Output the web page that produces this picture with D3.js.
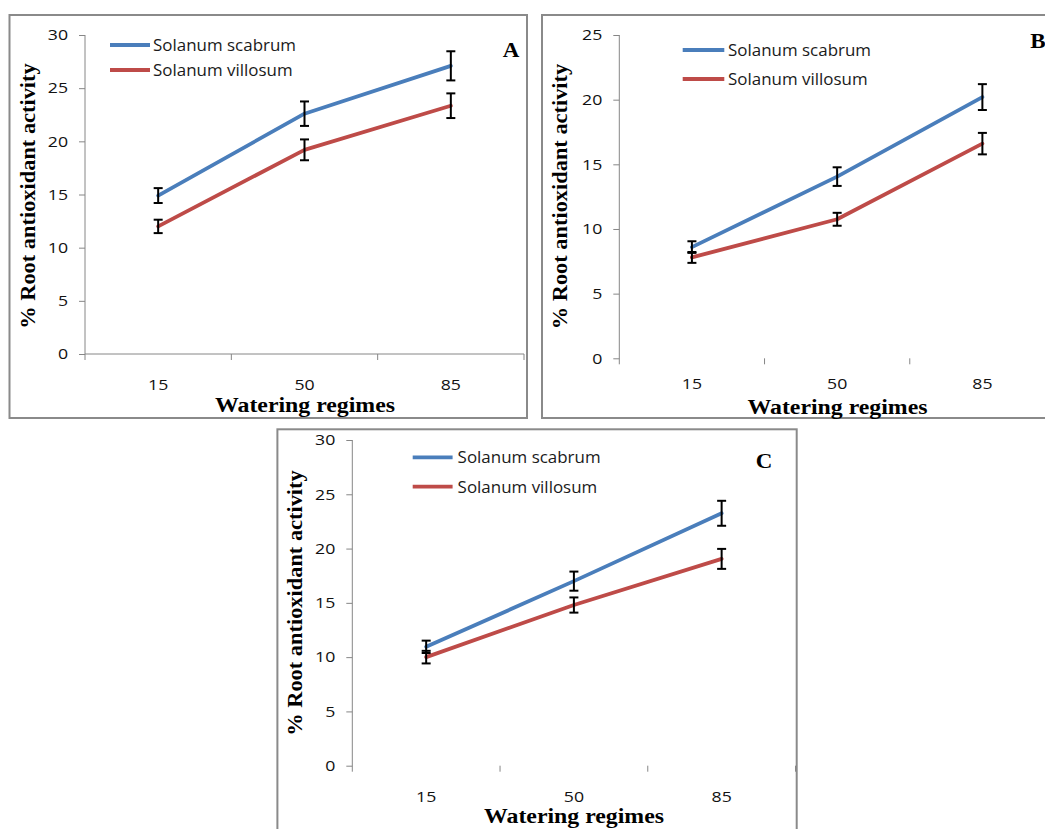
<!DOCTYPE html>
<html>
<head>
<meta charset="utf-8">
<script src="https://cdn.jsdelivr.net/npm/d3@7/dist/d3.min.js"></script>
<style>
  html, body { margin: 0; padding: 0; background: #ffffff; }
  svg { display: block; }
</style>
</head>
<body>
<svg id="chart" width="1045" height="829"></svg>
<script>
// ---------------- DATA ----------------
const categories = ["15", "50", "85"];
const seriesNames = ["Solanum scabrum", "Solanum villosum"];
const panelLabels = ["A", "B", "C"];
const xTitle = "Watering regimes";
const yTitle = "% Root antioxidant activity";

const yTicksA = [0, 5, 10, 15, 20, 25, 30];
const yTicksB = [0, 5, 10, 15, 20, 25];
const yTicksC = [0, 5, 10, 15, 20, 25, 30];

// Panel A
const scabrumA = [14.9, 22.6, 27.1];
const scabrumErrA = [0.7, 1.15, 1.37];
const villosumA = [12.0, 19.2, 23.35];
const villosumErrA = [0.63, 0.98, 1.16];
// Panel B
const scabrumB = [8.6, 14.05, 20.2];
const scabrumErrB = [0.45, 0.72, 1.0];
const villosumB = [7.8, 10.75, 16.6];
const villosumErrB = [0.42, 0.5, 0.83];
// Panel C
const scabrumC = [10.95, 17.0, 23.25];
const scabrumErrC = [0.57, 0.88, 1.15];
const villosumC = [10.0, 14.8, 19.05];
const villosumErrC = [0.58, 0.7, 0.92];

// ---------------- LAYOUT / STYLE ----------------
const colors = ["#4A7EBB", "#BE4B48"];
const axisColor = "#868686";
const frameColor = "#8a8a8a";
const tickFont = "'Open Sans', 'DejaVu Sans', sans-serif";
const titleFont = "'Liberation Serif', 'Times New Roman', serif";

const panels = [
  {
    label: panelLabels[0], ticks: yTicksA,
    series: [[scabrumA, scabrumErrA], [villosumA, villosumErrA]],
    frame: {x: 9.5, y: 15, w: 517.5, h: 403},
    plot: {left: 85, right: 524, top: 35, bottom: 354},
    xAxisLine: true, tickLabelY: 384,
    xTitlePos: [305, 411.5], yTitlePos: [34.5, 196],
    legend: {x1: 110, x2: 150, ys: [45, 70], tx: 153},
    letterPos: [511, 57]
  },
  {
    label: panelLabels[1], ticks: yTicksB,
    series: [[scabrumB, scabrumErrB], [villosumB, villosumErrB]],
    frame: {x: 542, y: 15, w: 520, h: 403},
    plot: {left: 619.3, right: 1055, top: 35, bottom: 358.3},
    xAxisLine: false, tickLabelY: 383.5,
    xTitlePos: [837.5, 413.5], yTitlePos: [566.7, 196.5],
    legend: {x1: 682.7, x2: 724.3, ys: [50, 79], tx: 728},
    letterPos: [1038, 48]
  },
  {
    label: panelLabels[2], ticks: yTicksC,
    series: [[scabrumC, scabrumErrC], [villosumC, villosumErrC]],
    frame: {x: 277.4, y: 429.3, w: 519.3, h: 420},
    plot: {left: 352.3, right: 795.5, top: 440, bottom: 765.7},
    xAxisLine: false, tickLabelY: 796,
    xTitlePos: [574, 823], yTitlePos: [302, 603],
    legend: {x1: 412.7, x2: 452.6, ys: [457.3, 486.7], tx: 457.6},
    letterPos: [764, 468]
  }
];

const svg = d3.select("#chart");
svg.append("rect").attr("width", 1045).attr("height", 829).attr("fill", "#fff");

panels.forEach(p => {
  const g = svg.append("g");

  // frame
  g.append("rect")
    .attr("x", p.frame.x).attr("y", p.frame.y)
    .attr("width", p.frame.w).attr("height", p.frame.h)
    .attr("fill", "#fff").attr("stroke", frameColor).attr("stroke-width", 2);

  const x = d3.scaleBand().domain(categories).range([p.plot.left, p.plot.right]);
  const yMax = d3.max(p.ticks);
  const y = d3.scaleLinear().domain([0, yMax]).range([p.plot.bottom, p.plot.top]);

  // Y axis
  const yAxis = g.append("g")
    .attr("transform", `translate(${p.plot.left},0)`)
    .call(d3.axisLeft(y).tickValues(p.ticks).tickSize(6).tickPadding(11).tickSizeOuter(0));
  yAxis.select(".domain").remove();
  yAxis.append("line")
    .attr("x1", 0).attr("x2", 0)
    .attr("y1", y(yMax)).attr("y2", p.plot.bottom + 6)
    .attr("stroke", axisColor);
  yAxis.selectAll(".tick line").attr("stroke", axisColor);
  yAxis.selectAll(".tick text")
    .attr("fill", "#111")
    .style("font-family", tickFont).style("font-size", "15px")
    .attr("x", -17 / 1.18)
    .attr("transform", "scale(1.18,1)");

  // X axis (category boundaries ticks)
  const bounds = categories.map(c => x(c)).concat([x.range()[1]]);
  if (p.xAxisLine) {
    g.append("line")
      .attr("x1", p.plot.left).attr("x2", p.plot.right)
      .attr("y1", p.plot.bottom).attr("y2", p.plot.bottom)
      .attr("stroke", axisColor);
  }
  g.selectAll(null).data(bounds.slice(1)).enter().append("line")
    .attr("x1", d => d).attr("x2", d => d)
    .attr("y1", p.plot.bottom).attr("y2", p.plot.bottom + 6)
    .attr("stroke", axisColor);
  g.selectAll(null).data(categories).enter().append("text")
    .attr("transform", d => `translate(${x(d) + x.bandwidth() / 2},${p.tickLabelY}) scale(1.18,1)`)
    .attr("text-anchor", "middle").attr("dominant-baseline", "central")
    .attr("fill", "#111")
    .style("font-family", tickFont).style("font-size", "15px")
    .text(d => d);

  // lines
  const line = d3.line()
    .x((d, i) => x(categories[i]) + x.bandwidth() / 2)
    .y(d => y(d));
  p.series.forEach((s, si) => {
    g.append("path")
      .datum(s[0])
      .attr("d", line)
      .attr("fill", "none")
      .attr("stroke", colors[si])
      .attr("stroke-width", 3.8)
      .attr("stroke-linejoin", "round")
      .attr("stroke-linecap", "round");
  });
  // error bars
  p.series.forEach((s, si) => {
    s[0].forEach((v, i) => {
      const cx = x(categories[i]) + x.bandwidth() / 2;
      const e = s[1][i];
      const eg = g.append("g").attr("stroke", "#000").attr("stroke-width", 2);
      eg.append("line").attr("x1", cx).attr("x2", cx).attr("y1", y(v + e)).attr("y2", y(v - e));
      eg.append("line").attr("x1", cx - 4.5).attr("x2", cx + 4.5).attr("y1", y(v + e)).attr("y2", y(v + e));
      eg.append("line").attr("x1", cx - 4.5).attr("x2", cx + 4.5).attr("y1", y(v - e)).attr("y2", y(v - e));
    });
  });

  // legend
  seriesNames.forEach((name, si) => {
    const ly = p.legend.ys[si];
    g.append("line")
      .attr("x1", p.legend.x1).attr("x2", p.legend.x2)
      .attr("y1", ly).attr("y2", ly)
      .attr("stroke", colors[si]).attr("stroke-width", 3.8);
    g.append("text")
      .attr("transform", `translate(${p.legend.tx},${ly + 6}) scale(1.06,1)`)
      .attr("fill", "#1a1a1a")
      .style("font-family", tickFont).style("font-size", "16px")
      .text(name);
  });

  // panel letter
  g.append("text")
    .attr("transform", `translate(${p.letterPos[0]},${p.letterPos[1]}) scale(1.15,1)`)
    .attr("text-anchor", "middle")
    .style("font-family", titleFont).style("font-weight", "bold").style("font-size", "20px")
    .text(p.label);

  // axis titles
  g.append("text")
    .attr("transform", `translate(${p.xTitlePos[0]},${p.xTitlePos[1]}) scale(1.19,1)`)
    .attr("text-anchor", "middle")
    .style("font-family", titleFont).style("font-weight", "bold").style("font-size", "20px")
    .text(xTitle);
  g.append("text")
    .attr("transform", `translate(${p.yTitlePos[0]},${p.yTitlePos[1]}) rotate(-90) scale(1.12,1)`)
    .attr("text-anchor", "middle")
    .style("font-family", titleFont).style("font-weight", "bold").style("font-size", "20px")
    .text(yTitle);
});
</script>
</body>
</html>
